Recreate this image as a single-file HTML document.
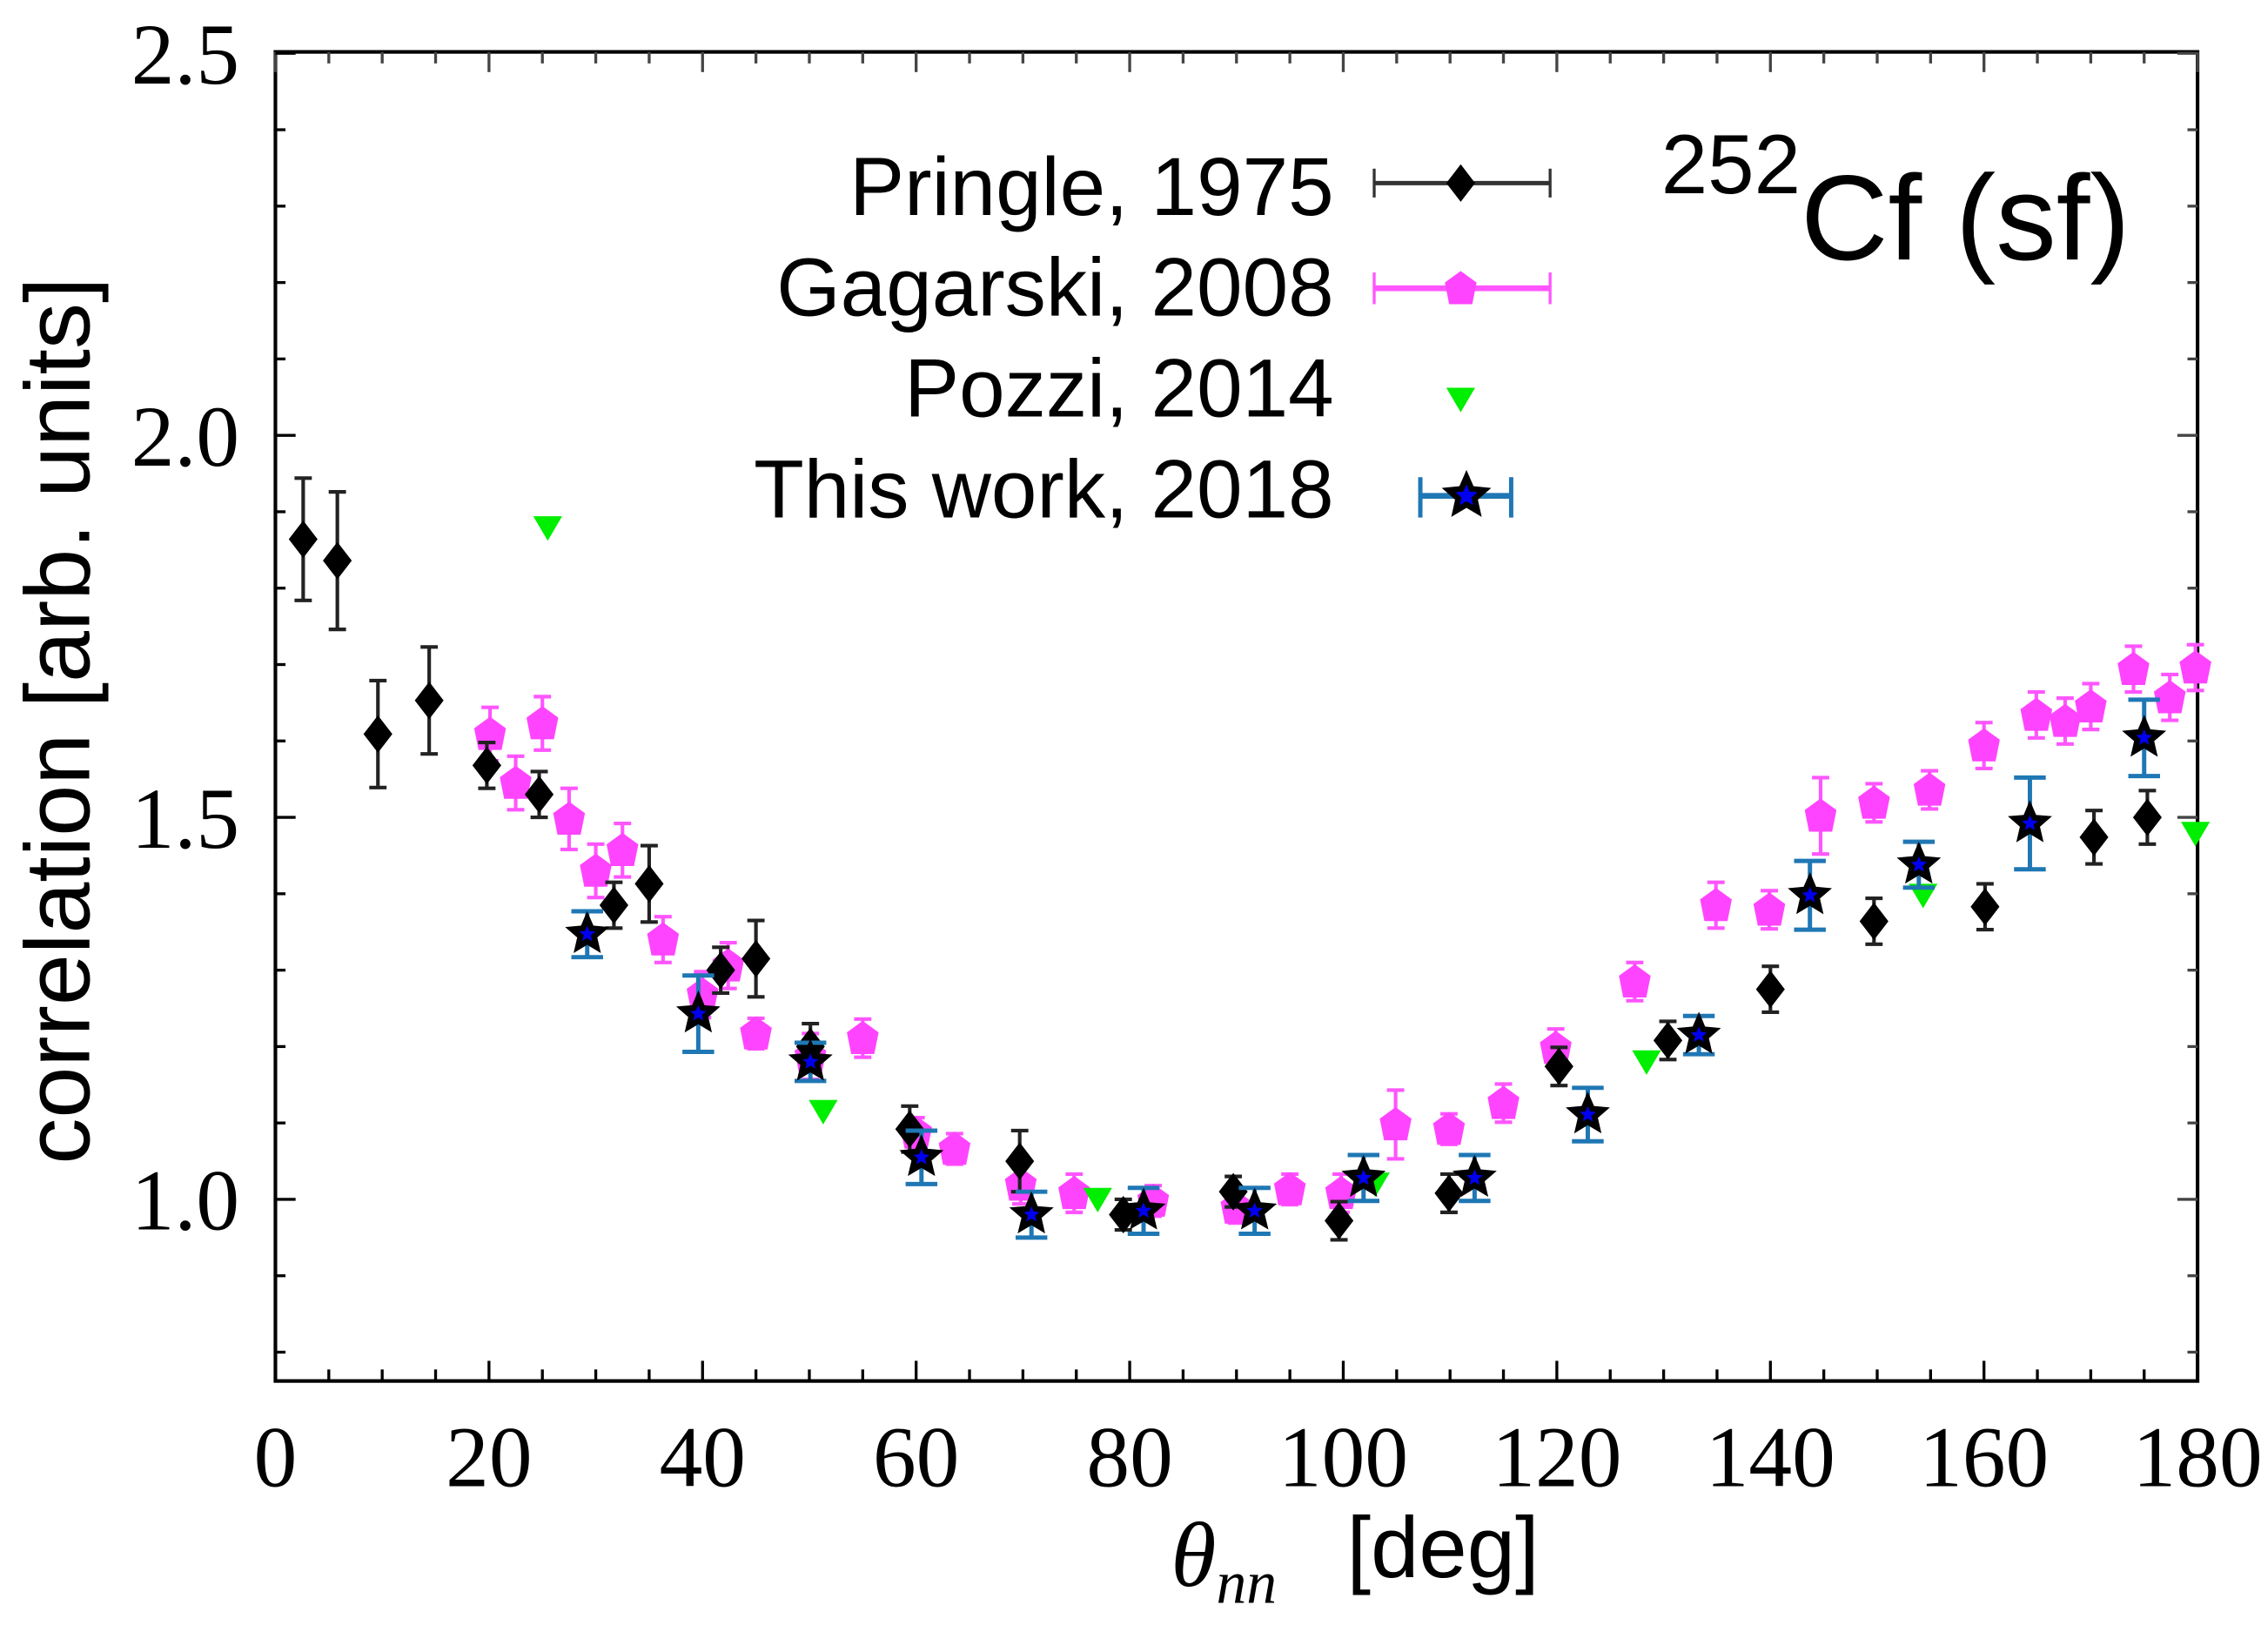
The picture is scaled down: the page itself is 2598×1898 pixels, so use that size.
<!DOCTYPE html>
<html><head><meta charset="utf-8"><style>
html,body{margin:0;padding:0;background:#fff;}
svg{display:block;}
.tick{font-family:"Liberation Serif",serif;font-size:60px;fill:#000;}
.sans{font-family:"Liberation Sans",sans-serif;fill:#000;}
</style></head><body>
<svg id="chart" width="2598" height="1898" viewBox="0 0 1568 1146" preserveAspectRatio="none" xmlns="http://www.w3.org/2000/svg">
<g id="plot"></g>
<g>
  <text class="sans" x="925" y="149" font-size="57" text-anchor="end">Pringle, 1975</text>
  <text class="sans" x="925" y="219" font-size="57" text-anchor="end">Gagarski, 2008</text>
  <text class="sans" x="925" y="289" font-size="57" text-anchor="end">Pozzi, 2014</text>
  <text class="sans" x="925" y="359" font-size="57" text-anchor="end">This work, 2018</text>
  <g>
    <line x1="953" y1="127" x2="1075" y2="127" stroke="#333" stroke-width="3"/>
    <line x1="953" y1="117" x2="953" y2="137" stroke="#333" stroke-width="2"/>
    <line x1="1075" y1="117" x2="1075" y2="137" stroke="#333" stroke-width="2"/>
    <polygon points="1013,114 1023,127 1013,140 1003,127" fill="#000"/>
  </g>
  <g>
    <line x1="953" y1="200" x2="1075" y2="200" stroke="#ff55ff" stroke-width="4"/>
    <line x1="953" y1="189" x2="953" y2="211" stroke="#ff55ff" stroke-width="2"/>
    <line x1="1075" y1="189" x2="1075" y2="211" stroke="#ff55ff" stroke-width="2"/>
    <polygon points="1013,188 1024,196 1021,211 1005,211 1002,196" fill="#ff44ff"/>
  </g>
  <polygon points="1003,269 1023,269 1013,286" fill="#00ee00"/>
  <g>
    <line x1="985" y1="344" x2="1048" y2="344" stroke="#1f77b4" stroke-width="4"/>
    <line x1="985" y1="331" x2="985" y2="359" stroke="#1f77b4" stroke-width="3"/>
    <line x1="1048" y1="331" x2="1048" y2="359" stroke="#1f77b4" stroke-width="3"/>
    <polygon id="legstar" fill="#0000ee" stroke="#000" stroke-width="4"/>
  </g>
</g>
<text class="sans" x="1152" y="180" font-size="84"><tspan font-size="58" dy="-46">252</tspan><tspan dy="46">Cf (sf)</tspan></text>
<text class="sans" transform="translate(62,500) rotate(-90)" font-size="64" text-anchor="middle">correlation [arb. units]</text>
<g>
  <text x="812" y="1100" font-family="Liberation Serif,serif" font-style="italic" font-size="64">θ<tspan font-size="42" dy="12">nn</tspan></text>
  <text class="sans" x="934" y="1094" font-size="60">[deg]</text>
</g>
<script>
const xTicks=[0,20,40,60,80,100,120,140,160,180];
const yTicks=[1.0,1.5,2.0,2.5];
const pringleX=[2.6,5.8,9.6,14.4,19.8,24.7,31.7,35,41.7,45,50.1,59.4,69.7,79.4,89.7,99.6,109.9,120.2,130.4,140,149.7,160.1,170.3,175.3];
const pringleY=[1.864,1.836,1.609,1.653,1.568,1.53,1.385,1.413,1.30,1.315,1.20,1.092,1.05,0.98,1.01,0.972,1.008,1.174,1.208,1.275,1.364,1.383,1.474,1.50];
const pringleErr=[0.08,0.09,0.07,0.07,0.03,0.03,0.03,0.05,0.03,0.05,0.03,0.03,0.04,0.02,0.02,0.025,0.025,0.025,0.025,0.03,0.03,0.03,0.035,0.035];
const gagX=[20.1,22.5,25,27.5,30,32.5,36.3,40,42.4,45,50.1,55,60,63.6,69.8,74.8,82.2,90,95,99.8,104.9,109.9,115,119.9,127.3,134.9,139.9,144.7,149.7,154.9,160,164.9,167.6,170,174,177.4,179.8];
const gagY=[1.609,1.545,1.623,1.498,1.43,1.457,1.34,1.268,1.306,1.217,1.187,1.211,1.087,1.066,1.019,1.008,0.998,0.989,1.013,1.008,1.098,1.092,1.126,1.198,1.285,1.385,1.379,1.502,1.519,1.536,1.594,1.634,1.626,1.645,1.694,1.657,1.696];
const gagErr=[0.035,0.035,0.035,0.04,0.035,0.035,0.03,0.03,0.03,0.02,0.03,0.025,0.02,0.02,0.025,0.025,0.02,0.02,0.02,0.025,0.045,0.02,0.025,0.025,0.025,0.03,0.025,0.05,0.025,0.025,0.03,0.03,0.03,0.03,0.03,0.03,0.03];
const pozziX=[25.5,51.3,77,103,128.4,154.3,179.8];
const pozziY=[1.879,1.115,1.0,1.02,1.18,1.398,1.479];
const workX=[29.2,39.6,50.1,60.5,70.8,81.3,91.7,101.9,112.3,122.9,133.3,143.7,153.9,164.3,175];
const workY=[1.347,1.243,1.18,1.055,0.98,0.985,0.985,1.028,1.028,1.111,1.215,1.398,1.438,1.492,1.604];
const workErr=[0.03,0.05,0.025,0.035,0.03,0.03,0.03,0.03,0.03,0.035,0.025,0.045,0.03,0.06,0.05];

const L=191,R=1524,T=36,B=958;
const X=v=>L+(v-0)*(R-L)/180;
const Y=v=>832-(v-1.0)*530;
const NS="http://www.w3.org/2000/svg";
const plot=document.getElementById('plot');
function mk(tag,attrs,parent){const e=document.createElementNS(NS,tag);for(const k in attrs)e.setAttribute(k,attrs[k]);(parent||plot).appendChild(e);return e;}
function starPts(cx,cy,ro,ri){let p=[];for(let i=0;i<10;i++){const a=-Math.PI/2+i*Math.PI/5;const r=i%2?ri:ro;p.push((cx+r*Math.cos(a)).toFixed(1)+','+(cy+r*Math.sin(a)).toFixed(1));}return p.join(' ');}
document.getElementById('legstar').setAttribute('points',starPts(1017,344,13,6));

const frame=mk('rect',{x:L,y:T,width:R-L,height:B-T,fill:'none',stroke:'#000','stroke-width':2.5});


for(let v=0;v<=180;v+=5){const maj=v%20===0;const len=maj?14:8;
 const t=mk('line',{x1:X(v),x2:X(v),y1:B,y2:B-len,stroke:'#000','stroke-width':2});
 
 
 mk('line',{x1:X(v),x2:X(v),y1:T,y2:T+len,stroke:'#444','stroke-width':2});}
xTicks.forEach(v=>{const t=mk('text',{x:X(v),y:1031,'text-anchor':'middle',class:'tick'});t.textContent=v;
 
 });
for(let k=8;k<=25;k++){const v=k/10;const maj=k%5===0;const len=maj?14:7;
 const t=mk('line',{x1:L,x2:L+len,y1:Y(v),y2:Y(v),stroke:'#000','stroke-width':2});
 
 
 mk('line',{x1:R,x2:R-len,y1:Y(v),y2:Y(v),stroke:'#444','stroke-width':2});}
yTicks.forEach(v=>{const t=mk('text',{x:166,y:Y(v)+21,'text-anchor':'end',class:'tick'});t.textContent=v.toFixed(1);
 
 });

function errbar(x,y,e,col,w,cap){const g=mk('g',{});
 mk('line',{x1:X(x),x2:X(x),y1:Y(y-e),y2:Y(y+e),stroke:col,'stroke-width':w},g);
 mk('line',{x1:X(x)-cap,x2:X(x)+cap,y1:Y(y-e),y2:Y(y-e),stroke:col,'stroke-width':w},g);
 mk('line',{x1:X(x)-cap,x2:X(x)+cap,y1:Y(y+e),y2:Y(y+e),stroke:col,'stroke-width':w},g);return g;}

gagX.forEach((x,i)=>{const g=errbar(x,gagY[i],gagErr[i],'#ff55ff',2.5,6);
 
 
 const cx=X(x),cy=Y(gagY[i]);
 const p=mk('polygon',{points:`${cx},${cy-12} ${cx+11},${cy-4} ${cx+8},${cy+11} ${cx-8},${cy+11} ${cx-11},${cy-4}`,fill:'#ff44ff'});
 
 });
pringleX.forEach((x,i)=>{const g=errbar(x,pringleY[i],pringleErr[i],'#222',2.5,6);
 
 
 const cx=X(x),cy=Y(pringleY[i]);
 const p=mk('polygon',{points:`${cx},${cy-13} ${cx+10},${cy} ${cx},${cy+13} ${cx-10},${cy}`,fill:'#000'});
 
 });
pozziX.forEach((x,i)=>{const cx=X(x),cy=Y(pozziY[i]);
 const p=mk('polygon',{points:`${cx-10},${cy-8} ${cx+10},${cy-8} ${cx},${cy+9}`,fill:'#00ee00'});
 
 });
workX.forEach((x,i)=>{const g=errbar(x,workY[i],workErr[i],'#1f77b4',3,11);
 
 
 const p=mk('polygon',{points:starPts(X(x),Y(workY[i]),11,5),fill:'#0000ee',stroke:'#000','stroke-width':4});
 
 });
</script>
</svg>
</body></html>
